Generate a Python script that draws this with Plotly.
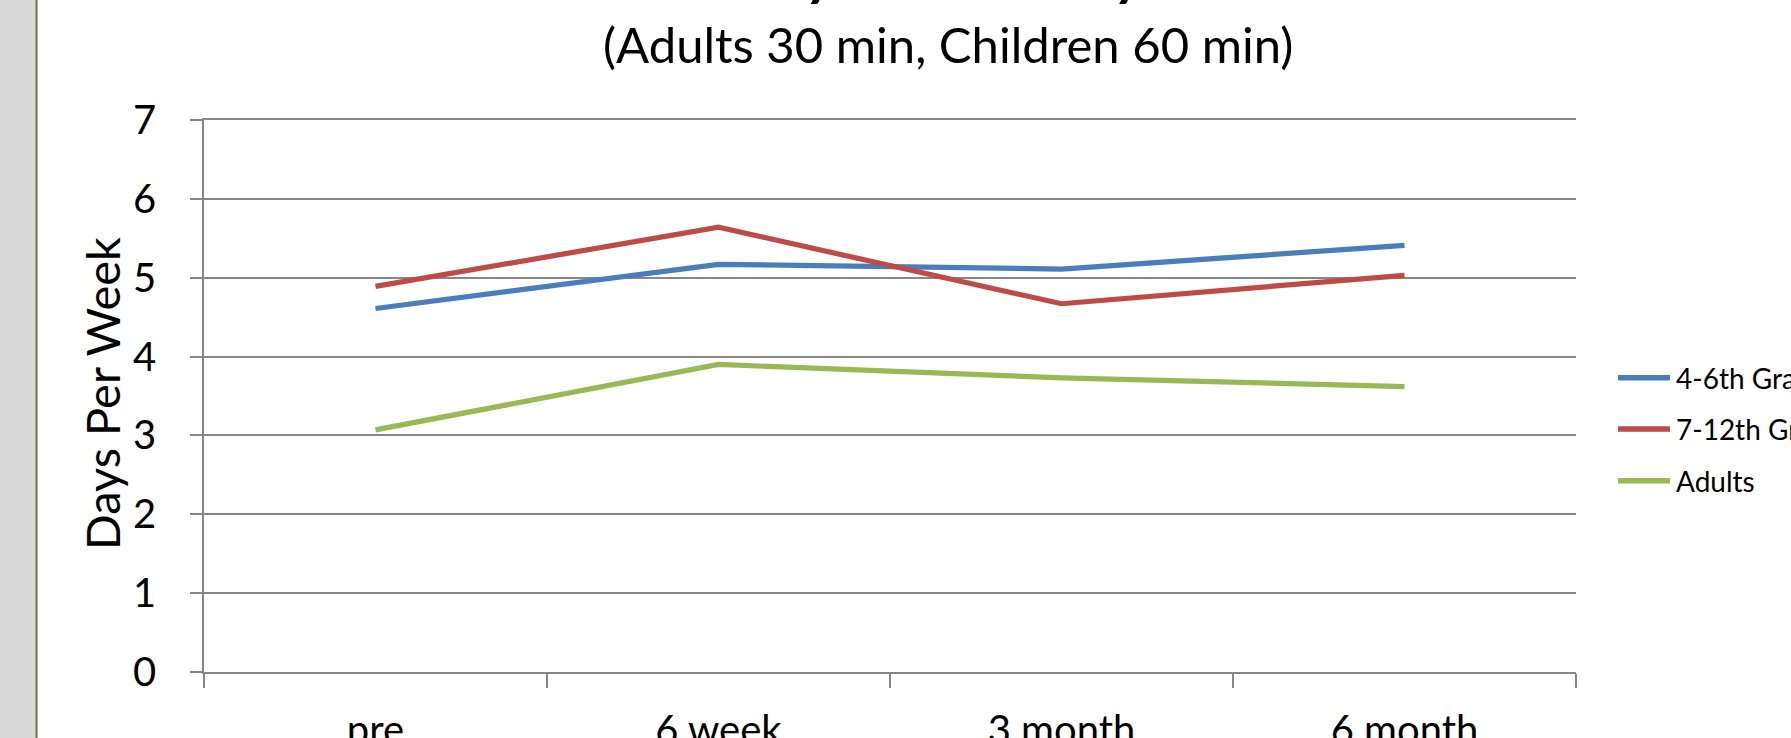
import plotly.graph_objects as go

# Survey time points and series
timepoints = ["pre", "6 week", "3 month", "6 month"]
series_names = ["4-6th Grade", "7-12th Grade", "Adults"]
grade_4_6 = [4.61, 5.17, 5.11, 5.41]
grade_7_12 = [4.89, 5.64, 4.67, 5.03]
adults = [3.07, 3.90, 3.73, 3.62]
y_ticks = [0, 1, 2, 3, 4, 5, 6, 7]

colors = ["#4A7EBB", "#BE4B48", "#98B954"]
FONT = "Lato"
GRID = "#878787"

W, H = 1791, 738
L, R, T, B = 204, 215, 120, 66
PW, PH = W - L - R, H - T - B


def px_x(px):
    """Pixel column -> paper x."""
    return (px - L) / PW


def px_y(py):
    """Pixel row (from top) -> paper y."""
    return (H - B - py) / PH


fig = go.Figure()
for name, vals, col in zip(series_names, [grade_4_6, grade_7_12, adults], colors):
    fig.add_trace(go.Scatter(
        x=timepoints, y=vals, name=name, mode="lines",
        line=dict(color=col, width=5.2), showlegend=False,
    ))

shapes = [
    # grey strip and divider at the left edge
    dict(type="rect", xref="paper", yref="paper", x0=px_x(0), x1=px_x(35.5),
         y0=px_y(H), y1=px_y(0), fillcolor="#D9D9D9", line=dict(width=0), layer="below"),
    dict(type="line", xref="paper", yref="paper", x0=px_x(36.5), x1=px_x(36.5),
         y0=px_y(H), y1=px_y(0), line=dict(color="#5B7B2E", width=2)),
]

annotations = [
    dict(text="<b><i>Physical Activity</i></b>", xref="paper", yref="paper",
         x=px_x(945), y=px_y(8), xanchor="center", yanchor="bottom", showarrow=False,
         font=dict(family=FONT, size=58, color="black")),
    dict(text="(Adults 30 min, Children 60 min)", xref="paper", yref="paper",
         x=px_x(948), y=px_y(44), xanchor="center", yanchor="middle", showarrow=False,
         font=dict(family=FONT, size=49, color="black")),
    dict(text="Days Per Week", xref="paper", yref="paper", textangle=-90,
         x=px_x(102), y=px_y(394), xanchor="center", yanchor="middle", showarrow=False,
         font=dict(family=FONT, size=47, color="black")),
]

# legend drawn by hand on the right
legend_rows = [377.7, 429, 480.7]
for name, col, row in zip(series_names, colors, legend_rows):
    shapes.append(dict(type="line", xref="paper", yref="paper",
                       x0=px_x(1618), x1=px_x(1670), y0=px_y(row), y1=px_y(row),
                       line=dict(color=col, width=5.5)))
    annotations.append(dict(text=name, xref="paper", yref="paper",
                            x=px_x(1674), y=px_y(row), xanchor="left", yanchor="middle",
                            showarrow=False, font=dict(family=FONT, size=28, color="black")))

fig.update_layout(
    width=W, height=H,
    margin=dict(l=L, r=R, t=T, b=B, autoexpand=False),
    paper_bgcolor="white", plot_bgcolor="white",
    shapes=shapes, annotations=annotations,
    xaxis=dict(
        type="category", range=[-0.5, 3.5], tickson="boundaries",
        showgrid=False, showline=True, mirror=True, linecolor=GRID, linewidth=1.5,
        ticks="outside", ticklen=14, tickcolor=GRID, tickwidth=1.5,
        ticklabelstandoff=22,
        tickfont=dict(family=FONT, size=40, color="black"),
    ),
    yaxis=dict(
        range=[0, 7], tickvals=y_ticks, showgrid=True, gridcolor=GRID, gridwidth=1.5,
        showline=True, linecolor=GRID, linewidth=1.5, zeroline=False,
        ticks="outside", ticklen=12, tickcolor=GRID, tickwidth=1.5,
        ticklabelstandoff=26,
        tickfont=dict(family=FONT, size=40, color="black"),
    ),
)

fig.write_html("out.html")
